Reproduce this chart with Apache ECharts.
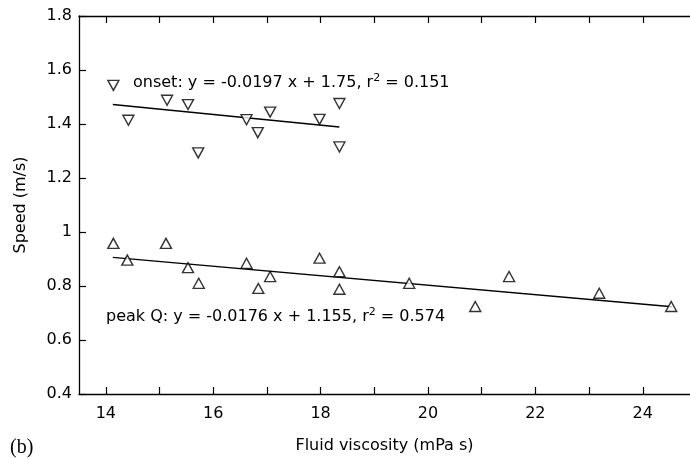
<!DOCTYPE html>
<html>
<head>
<meta charset="utf-8">
<script src="https://cdn.jsdelivr.net/npm/echarts@6/dist/echarts.min.js"></script>
<style>
  html, body { margin: 0; padding: 0; background: #fff; }
  #chart { width: 690px; height: 458px; }
</style>
</head>
<body>
<div id="chart"></div>
<script>
// Fluid viscosity (mPa s) and wave speed (m/s) at onset and at peak flow
var onsetViscosity = [14.14, 14.42, 15.14, 15.53, 15.72, 16.62, 16.83, 17.06, 17.98, 18.35, 18.35];
var onsetSpeed     = [1.543, 1.414, 1.488, 1.472, 1.293, 1.416, 1.368, 1.444, 1.417, 1.476, 1.315];

var peakViscosity = [14.14, 14.40, 15.12, 15.53, 15.73, 16.62, 16.84, 17.06, 17.98, 18.35, 18.35, 19.65, 20.88, 21.51, 23.19, 24.53];
var peakSpeed     = [0.958, 0.896, 0.958, 0.868, 0.810, 0.884, 0.791, 0.835, 0.903, 0.853, 0.788, 0.810, 0.724, 0.835, 0.773, 0.724];

// Regression line end points
var onsetFitX = [14.13, 18.35];
var onsetFitY = [1.472, 1.389];
var peakFitX  = [14.13, 24.55];
var peakFitY  = [0.906, 0.723];

// Axis ticks and labels
var xTicks  = [14, 15, 16, 17, 18, 19, 20, 21, 22, 23, 24];
var xLabels = [14, 16, 18, 20, 22, 24];

var onsetText = { eq: 'onset: y = -0.0197 x + 1.75, r', r2: '0.151' };
var peakText  = { eq: 'peak Q: y = -0.0176 x + 1.155, r', r2: '0.574' };

function pairs(xs, ys) {
  return xs.map(function (x, i) { return [x, ys[i]]; });
}

var FONT = '"DejaVu Sans", "Liberation Sans", Arial, sans-serif';

function lineOf() { return { show: true, lineStyle: { color: '#000', width: 1.3 } }; }
function ticksOf(values) {
  var t = { show: true, inside: true, length: 7, lineStyle: { color: '#000', width: 1.2 } };
  if (values) t.customValues = values;
  return t;
}
function eqText(t) {
  return {
    text: '{t|' + t.eq + '}{s|2}{t| = ' + t.r2 + '}',
    rich: {
      t: { fontFamily: FONT, fontSize: 16, fill: '#000' },
      s: { fontFamily: FONT, fontSize: 11, fill: '#000', verticalAlign: 'top', padding: [0, 0, 9, 0] }
    }
  };
}

var chart = echarts.init(document.getElementById('chart'));

chart.setOption({
  animation: false,
  backgroundColor: '#fff',
  // fixed plot box; the axis names sit in the margins without resizing it
  grid: { left: 79, right: 0, top: 16, bottom: 64, containLabel: false, outerBoundsMode: 'none' },
  xAxis: [
    {
      type: 'value', min: 13.5, max: 24.88, position: 'bottom',
      axisLine: lineOf(),
      axisTick: ticksOf(xTicks),
      axisLabel: { customValues: xLabels, color: '#000', fontFamily: FONT, fontSize: 16, margin: 12 },
      splitLine: { show: false },
      name: 'Fluid viscosity (mPa s)', nameLocation: 'middle', nameGap: 44,
      nameTextStyle: { color: '#000', fontFamily: FONT, fontSize: 16 }
    },
    {
      type: 'value', min: 13.5, max: 24.88, position: 'top',
      axisLine: lineOf(),
      axisTick: ticksOf(xTicks),
      axisLabel: { show: false },
      splitLine: { show: false }
    }
  ],
  yAxis: {
    type: 'value', min: 0.4, max: 1.8, interval: 0.2,
    axisLine: lineOf(),
    axisTick: ticksOf(null),
    axisLabel: {
      color: '#000', fontFamily: FONT, fontSize: 16, margin: 7,
      formatter: function (v) { return String(+v.toFixed(1)); }
    },
    splitLine: { show: false },
    name: 'Speed (m/s)', nameLocation: 'middle', nameGap: 50,
    nameTextStyle: { color: '#000', fontFamily: FONT, fontSize: 16 }
  },
  series: [
    {
      type: 'line', data: pairs(onsetFitX, onsetFitY), symbol: 'none',
      lineStyle: { color: '#000', width: 1.4 }, z: 2
    },
    {
      type: 'line', data: pairs(peakFitX, peakFitY), symbol: 'none',
      lineStyle: { color: '#000', width: 1.4 }, z: 2
    },
    {
      type: 'scatter', data: pairs(onsetViscosity, onsetSpeed),
      symbol: 'triangle', symbolSize: [11, 10], symbolRotate: 180,
      itemStyle: { color: '#fff', borderColor: '#000', borderWidth: 1.4 }, z: 3
    },
    {
      type: 'scatter', data: pairs(peakViscosity, peakSpeed),
      symbol: 'triangle', symbolSize: [11, 10],
      itemStyle: { color: '#fff', borderColor: '#000', borderWidth: 1.4 }, z: 3
    }
  ],
  graphic: [
    { type: 'text', left: 133, top: 73, style: eqText(onsetText) },
    { type: 'text', left: 106, top: 307, style: eqText(peakText) },
    {
      type: 'text', left: 10, top: 438,
      style: { text: '(b)', font: '20px "Liberation Serif", "Times New Roman", serif', fill: '#000' }
    },
    // the plot is open on its right side: keep that edge clear
    {
      type: 'rect', left: 683, top: 20, z: 100,
      shape: { width: 7, height: 368 },
      style: { fill: '#fff' }
    }
  ]
});
</script>
</body>
</html>
